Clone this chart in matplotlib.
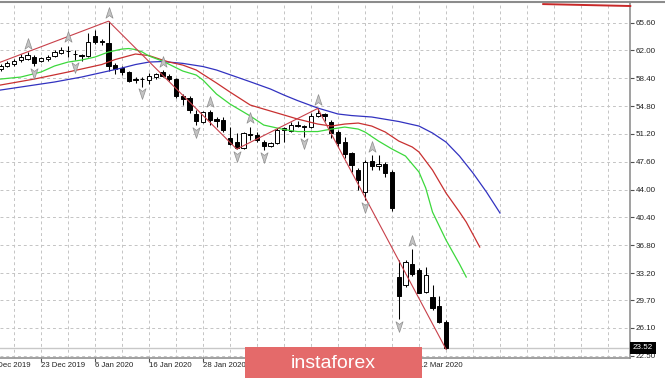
import matplotlib
matplotlib.use("Agg")
import matplotlib.pyplot as plt
import matplotlib.transforms as mtransforms
from matplotlib.path import Path
from matplotlib.patches import Rectangle
from matplotlib.lines import Line2D

plt.rcParams['font.family'] = ['Liberation Sans', 'DejaVu Sans']

# daily bars, index 0 = 13 Dec 2019 ... index 66 = 18 Mar 2020
opens = [59.58, 60.01, 60.23, 60.75, 60.88, 61.18, 60.62, 60.84, 61.31, 61.69,
         61.88, 61.56, 61.36, 61.27, 63.89, 63.21, 62.95, 60.10, 59.75, 59.16,
         58.29, 58.25, 58.16, 58.55, 59.24, 58.72, 58.29, 56.13, 55.79, 53.72,
         52.77, 53.98, 53.12, 52.99, 50.70, 50.10, 49.40, 51.18, 51.11, 50.10,
         49.66, 49.97, 51.91, 51.56, 52.30, 52.17, 52.12, 53.54, 53.72, 52.73,
         51.47, 50.18, 48.68, 46.52, 43.71, 47.72, 47.04, 47.30, 46.30, 32.64,
         31.64, 34.36, 33.58, 30.78, 30.13, 28.92, 26.89]
highs = [60.23, 60.62, 60.88, 61.52, 61.78, 61.40, 61.14, 61.40, 62.04, 62.43,
         62.61, 62.12, 61.52, 64.20, 64.63, 63.47, 65.79, 60.36, 59.97, 59.36,
         58.59, 58.59, 59.03, 59.07, 59.46, 58.94, 58.46, 56.35, 56.09, 54.28,
         54.15, 54.28, 53.41, 53.41, 52.12, 51.31, 51.44, 52.12, 51.44, 50.40,
         50.18, 51.91, 52.12, 52.77, 52.86, 52.34, 53.85, 54.50, 53.89, 52.99,
         51.69, 50.83, 48.89, 46.74, 47.81, 48.46, 48.46, 47.59, 46.52, 34.88,
         34.88, 36.26, 33.80, 34.02, 31.64, 30.22, 27.11]
lows = [59.33, 59.84, 60.04, 60.55, 60.75, 59.97, 60.49, 60.68, 61.14, 61.52,
        61.10, 60.75, 60.66, 61.18, 62.78, 62.75, 59.33, 58.94, 58.81, 57.90,
        57.74, 57.30, 57.61, 58.36, 58.55, 58.09, 55.87, 54.93, 53.85, 52.34,
        52.56, 52.34, 52.12, 51.40, 49.75, 49.24, 49.30, 50.40, 50.14, 49.11,
        49.53, 49.84, 50.18, 51.50, 52.08, 50.83, 51.95, 53.41, 52.86, 50.62,
        49.49, 48.07, 46.30, 43.93, 42.64, 46.52, 46.52, 45.57, 41.25, 27.24,
        31.42, 32.81, 30.57, 30.65, 28.41, 26.69, 23.36]
closes = [60.01, 60.40, 60.66, 61.18, 61.40, 60.32, 60.97, 61.18, 61.82, 62.12,
          61.95, 61.49, 61.27, 63.12, 63.12, 63.04, 60.04, 59.65, 59.24, 58.03,
          58.20, 58.29, 58.72, 58.94, 58.72, 58.29, 56.13, 55.70, 54.28, 52.86,
          53.98, 52.99, 52.86, 51.69, 49.84, 49.40, 51.27, 51.11, 50.46, 49.66,
          49.97, 51.69, 51.66, 52.34, 52.22, 52.08, 53.54, 53.85, 53.57, 51.34,
          50.01, 48.55, 47.17, 45.23, 47.59, 47.04, 47.26, 46.09, 41.56, 30.22,
          34.66, 33.07, 30.65, 32.94, 28.63, 26.89, 23.52]

# Alligator lines (shifted forward past the last bar)
jaw_x = [0, 4, 8, 12, 16, 18, 20, 22, 24, 27, 30, 32, 35, 37, 40, 42, 44, 47,
         50, 52, 55, 59, 62, 64, 66, 68, 70, 72, 74]
jaw_y = [56.88, 57.40, 57.92, 58.56, 59.34, 59.73, 60.18, 60.50, 60.57, 60.33,
         59.92, 59.47, 58.56, 57.95, 57.01, 56.23, 55.52, 54.55, 53.78, 53.58,
         53.39, 52.81, 52.22, 51.32, 50.15, 48.34, 46.14, 43.68, 40.97]
teeth_x = [0, 5, 10, 15, 17, 20, 22, 24, 25, 27, 29, 32, 34, 37, 39, 42, 44,
           47, 49, 51, 53, 55, 57, 59, 61, 62, 64, 66, 68, 69, 71]
teeth_y = [57.53, 58.30, 59.21, 60.18, 60.83, 61.54, 61.34, 60.76, 60.50,
           60.11, 59.47, 57.79, 56.62, 54.94, 54.42, 53.65, 53.13, 52.48,
           52.22, 52.48, 52.61, 52.22, 51.45, 50.28, 49.51, 48.86, 46.53,
           43.56, 41.10, 39.80, 36.57]
lips_x = [0, 3, 6, 8, 10, 12, 14, 16, 18, 19, 20, 21, 22, 24, 27, 29, 30, 32,
          34, 37, 39, 42, 44, 47, 49, 51, 53, 54, 56, 58, 60, 62, 63, 64, 65,
          66, 67, 68, 69]
lips_y = [58.30, 58.56, 59.21, 59.99, 60.50, 60.76, 61.15, 61.80, 62.18, 62.25,
          62.12, 61.80, 61.28, 60.63, 59.34, 58.82, 58.17, 56.36, 55.07, 53.52,
          52.35, 51.77, 51.51, 51.51, 51.83, 52.09, 51.83, 51.45, 50.28, 49.25,
          48.34, 46.27, 44.20, 41.10, 39.29, 37.48, 35.92, 34.37, 32.69]

zigzag_x = [0, 16, 35, 47, 66]
zigzag_y = [60.49, 65.79, 49.24, 54.50, 23.36]

fractal_up = [4, 10, 16, 24, 31, 37, 47, 55, 61]
fractal_down = [5, 11, 21, 29, 35, 39, 45, 54, 59]

level_x = [80.4, 93.3]
level_y = [68.0, 67.75]

price_ticks = [65.60, 62.00, 58.40, 54.80, 51.20, 47.60, 44.00, 40.40, 36.80,
               33.20, 29.70, 26.10, 22.50]
# date ticks every 8 bars; the ones under the watermark carry no visible text
date_idx = [-2, 6, 14, 22, 30, 38, 46, 54, 62]
date_labels = ['11 Dec 2019', '23 Dec 2019', '6 Jan 2020', '16 Jan 2020',
               '28 Jan 2020', '', '', '', '12 Mar 2020']
last_price = 23.52

W, H = 665, 378
BAR = 6.75  # pixels per bar

fig = plt.figure(figsize=(W / 100, H / 100), dpi=100)
fig.patch.set_facecolor('white')
ax = fig.add_axes([0, (H - 357.5) / H, 630 / W, (357.5 - 3) / H])
ax.set_xlim(-0.5 / BAR, 629.5 / BAR)
ax.set_ylim(22.28, 68.14)

grid_kw = dict(color='#c4c4c4', lw=0.7, ls=(0, (3, 3)), zorder=0)
for i in range(2, 94, 4):
    ax.axvline(i, **grid_kw)
for p in price_ticks:
    ax.axhline(p, **grid_kw)

ax.axhline(last_price, color='#c8c8c8', lw=1.0, zorder=1)

# candles
idx = list(range(len(opens)))
ax.vlines(idx, lows, highs, color='black', lw=0.75, zorder=3)
bottoms = [min(o, c) for o, c in zip(opens, closes)]
heights = [max(abs(c - o), 0.02) for o, c in zip(opens, closes)]
colors = ['white' if c >= o else 'black' for o, c in zip(opens, closes)]
ax.bar(idx, heights, bottom=bottoms, width=0.64, color=colors,
       edgecolor='black', lw=0.7, zorder=4)

# alligator + zigzag
ax.plot(jaw_x, jaw_y, color='#3232c0', lw=0.9, zorder=5)
ax.plot(teeth_x, teeth_y, color='#c83030', lw=0.9, zorder=5)
ax.plot(lips_x, lips_y, color='#3cd83c', lw=0.9, zorder=5)
ax.plot(zigzag_x, zigzag_y, color='#c8404a', lw=0.8, zorder=5)
ax.plot(level_x, level_y, color='#c82828', lw=1.4, zorder=5, clip_on=False)

# fractal arrows
up_arrow = Path([(0, 1), (0.6, -0.8), (0, -0.35), (-0.6, -0.8), (0, 1)],
                [Path.MOVETO, Path.LINETO, Path.LINETO, Path.LINETO, Path.CLOSEPOLY])
down_arrow = Path([(0, -1), (0.6, 0.8), (0, 0.35), (-0.6, 0.8), (0, -1)],
                  [Path.MOVETO, Path.LINETO, Path.LINETO, Path.LINETO, Path.CLOSEPOLY])
up_tr = mtransforms.offset_copy(ax.transData, fig=fig, y=8.5, units='dots')
dn_tr = mtransforms.offset_copy(ax.transData, fig=fig, y=-6.5, units='dots')
ax.plot(fractal_up, [highs[i] for i in fractal_up], ls='none', marker=up_arrow,
        ms=8.5, mfc='#c4c4c4', mec='#8e8e8e', mew=0.5, transform=up_tr, zorder=6)
ax.plot(fractal_down, [lows[i] for i in fractal_down], ls='none', marker=down_arrow,
        ms=8.5, mfc='#c4c4c4', mec='#8e8e8e', mew=0.5, transform=dn_tr, zorder=6)

# axes
for s in ('left', 'top'):
    ax.spines[s].set_visible(False)
for s in ('right', 'bottom'):
    ax.spines[s].set_color('#909090')
    ax.spines[s].set_linewidth(1.2)

ax.yaxis.tick_right()
ax.set_yticks(price_ticks)
ax.set_yticklabels([f'{p:.2f}' for p in price_ticks])
ax.tick_params(axis='y', length=3, width=0.8, color='#505050', labelsize=5.8,
               pad=1.2, labelcolor='#222222')

shown = [(i, l) for i, l in zip(date_idx, date_labels) if i >= 0]
ax.set_xticks([i for i, _ in shown])
ax.set_xticklabels([l for _, l in shown], ha='left')
ax.tick_params(axis='x', length=2.8, width=0.8, color='#505050', labelsize=5.6,
               pad=0.6, labelcolor='#222222')
for i, l in zip(date_idx, date_labels):
    if i < 0:
        tr = mtransforms.offset_copy(ax.get_xaxis_transform(), fig=fig, y=-3.4, units='points')
        ax.text(i, 0, l, transform=tr, ha='left', va='top', fontsize=5.6,
                color='#222222', clip_on=False)

ax.text(1.004, last_price, f'{last_price:.2f}', transform=ax.get_yaxis_transform(),
        color='white', fontsize=5.8, ha='left', va='center', clip_on=False, zorder=10,
        bbox=dict(boxstyle='square,pad=0.35', fc='black', ec='none'))

# window border on top
fig.add_artist(Line2D([0, 1], [1 - 2 / H, 1 - 2 / H], transform=fig.transFigure,
                      color='#8c8c8c', lw=1.5))

# watermark
fig.add_artist(Rectangle((245 / W, 0), (422 - 245) / W, (378 - 347) / H,
                         transform=fig.transFigure, facecolor='#e46a6a',
                         edgecolor='none', zorder=20))
fig.text((245 + 422) / 2 / W, 1 - 363 / H, 'instaforex', color='white',
         fontsize=14, ha='center', va='center', zorder=21)

fig.savefig('out.png', dpi=100)
